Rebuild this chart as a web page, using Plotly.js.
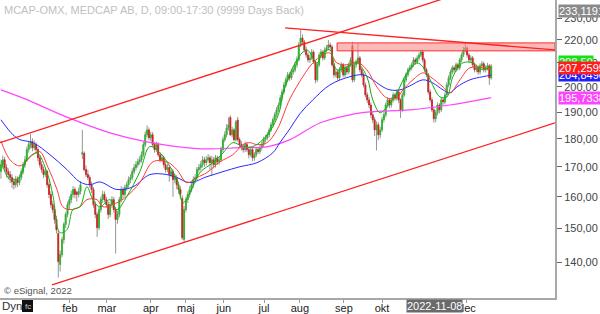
<!DOCTYPE html>
<html><head><meta charset="utf-8">
<script src="https://cdn.plot.ly/plotly-3.0.1.min.js"></script>
<style>html,body{margin:0;padding:0;background:#fff;}#chart{width:600px;height:314px;}</style>
</head><body><div id="chart"></div>
<script>
// Daily OHLC (index = trading day)
const openP = [168.5,170.8,172.5,169.8,168.4,167.4,166.4,165.0,164.0,165.7,164.7,166.4,168.4,170.8,172.5,176.1,177.9,179.0,176.8,177.9,
176.1,173.2,170.8,169.1,167.4,168.4,164.0,160.8,157.5,155.9,152.8,148.5,139.5,142.3,146.7,151.3,154.4,157.5,159.1,160.8,
162.4,161.5,160.8,161.8,174.5,174.8,169.1,167.4,166.4,164.0,162.4,157.5,154.4,150.3,155.9,159.1,160.8,159.1,157.5,154.4,
157.5,159.1,155.9,152.8,154.4,159.1,162.4,160.8,163.0,164.0,165.7,166.4,168.4,169.8,170.8,171.8,172.5,174.3,177.9,181.5,
183.3,180.4,181.5,177.9,176.1,177.9,174.3,172.5,173.2,170.8,169.1,169.8,167.4,168.4,165.7,166.4,164.0,162.4,159.5,146.8,
155.9,159.1,160.8,162.4,164.0,165.7,166.4,169.1,169.8,170.8,172.5,171.5,172.5,173.2,171.5,172.5,170.8,173.2,171.8,172.5,
176.1,179.7,181.5,184.0,188.0,181.5,183.3,179.7,187.0,179.7,177.9,176.8,176.1,177.9,176.1,174.3,176.1,173.2,174.3,176.1,
175.4,176.8,177.9,179.7,180.4,181.5,183.3,185.2,187.1,189.0,190.9,192.8,195.6,198.0,200.8,202.9,205.0,203.7,206.2,207.1,
209.2,211.3,217.8,220.9,219.1,215.6,213.4,211.3,212.1,214.7,210.4,202.9,209.2,213.4,214.7,212.1,215.6,216.5,217.8,216.9,
209.2,205.0,206.2,203.7,207.1,209.2,205.0,207.9,206.2,209.2,217.5,202.9,209.2,210.4,212.1,207.1,205.0,200.8,196.8,194.8,
192.8,189.0,187.1,183.3,185.2,181.5,183.3,187.1,189.0,192.8,194.8,192.8,194.8,196.8,195.6,198.0,194.8,190.9,196.8,202.9,
205.0,207.1,207.9,209.2,211.3,210.4,212.1,213.4,214.7,211.3,207.1,205.0,198.0,194.8,190.9,187.5,189.8,192.8,190.9,194.8,
194.0,196.8,200.8,203.7,206.2,207.9,207.1,209.2,207.9,211.3,213.4,215.6,216.5,213.4,211.3,212.1,209.2,207.1,207.9,206.2,
208.8,209.6,207.1,207.9,208.8,203.7];
const highP = [171.8,174.0,173.5,171.0,169.5,168.6,167.5,166.2,167.0,166.8,167.5,169.5,171.8,173.8,177.2,179.2,181.8,180.2,179.5,178.8,
177.0,174.2,172.0,170.2,169.6,169.0,165.0,161.8,158.6,157.0,154.0,149.5,143.5,147.5,152.0,155.2,158.5,160.2,162.0,163.5,
163.2,162.0,163.0,165.2,183.3,175.5,170.5,169.0,167.2,165.0,163.2,158.5,155.2,156.8,160.0,162.0,161.8,160.0,158.5,158.5,
160.2,160.0,156.8,155.5,160.0,163.5,163.2,164.0,165.0,166.8,167.5,169.5,171.0,172.0,173.0,173.8,175.5,179.0,182.8,185.0,
184.2,182.6,182.5,178.8,179.0,178.8,175.2,174.5,174.0,171.8,171.0,170.5,169.5,169.2,167.5,167.2,165.0,163.5,160.5,157.0,
160.0,161.8,163.5,165.0,166.8,167.5,170.0,171.0,172.0,173.8,173.5,173.8,174.5,174.0,173.8,173.5,174.2,174.0,173.8,177.2,
180.8,182.8,185.5,188.0,188.8,184.5,184.0,187.0,188.2,180.5,179.2,178.0,179.0,178.8,177.0,177.2,177.0,175.2,177.0,177.0,
177.8,179.0,180.8,181.5,182.5,184.2,186.2,188.0,190.0,192.0,193.8,196.8,199.2,202.0,204.0,206.2,206.0,207.5,208.5,210.5,
212.8,219.0,224.5,222.5,220.0,217.0,214.5,213.5,216.0,215.5,211.2,210.0,214.5,216.0,215.5,216.8,217.8,220.0,218.8,217.8,
210.2,207.5,207.0,208.2,210.2,210.0,209.0,208.8,210.2,212.5,219.2,210.2,211.5,218.7,213.0,208.0,206.0,201.8,197.8,196.0,
193.8,190.2,188.2,186.5,186.2,184.5,188.2,190.0,193.8,195.8,195.5,195.8,197.8,197.5,199.0,198.8,195.5,197.8,204.0,206.0,
208.0,209.0,210.2,212.5,212.2,213.2,214.5,215.6,215.5,212.2,208.0,205.8,199.0,195.8,192.0,190.8,193.8,193.5,195.8,195.8,
197.8,201.8,204.8,207.2,209.0,208.8,210.2,210.0,212.2,214.5,217.0,218.7,217.2,214.2,213.2,213.0,210.2,209.0,208.8,209.8,
210.8,210.5,209.0,210.0,209.5,209.5];
const lowP = [166.0,169.5,168.5,166.5,165.8,164.5,162.8,162.4,163.0,163.2,163.8,165.5,167.5,169.8,171.8,175.0,176.5,175.5,175.8,174.8,
172.0,169.8,168.0,166.2,166.5,163.0,159.5,156.5,154.8,151.5,148.5,135.8,137.5,141.5,145.5,150.2,153.5,156.0,158.0,159.8,
159.5,158.5,159.8,160.8,172.8,168.5,166.5,165.5,163.0,161.2,156.5,153.2,147.5,149.5,155.0,158.0,158.2,156.5,153.0,153.5,
156.5,155.0,142.6,151.5,153.5,158.2,159.5,160.0,162.0,163.0,164.5,165.5,167.5,168.8,169.8,170.8,171.5,173.5,177.0,180.5,
179.5,179.2,177.0,175.0,175.2,173.5,171.5,171.8,169.8,168.0,168.2,165.0,166.5,160.0,164.5,162.5,161.0,159.5,146.6,146.0,
155.0,158.0,159.8,161.5,163.0,164.5,165.5,168.0,168.8,169.8,170.0,170.5,171.5,169.0,167.0,169.5,169.8,170.8,170.8,171.8,
175.2,178.8,180.5,183.0,181.0,180.5,179.0,179.0,179.0,177.0,175.8,175.0,175.2,175.2,173.0,173.5,172.0,172.2,173.5,174.5,
174.5,175.8,177.0,178.8,179.5,180.5,182.5,184.2,186.2,188.0,190.0,191.8,194.5,197.0,199.8,201.8,202.5,202.8,205.0,206.0,
208.0,210.5,216.8,218.0,214.5,212.2,210.2,210.0,211.2,209.5,201.5,202.0,208.2,212.2,211.0,211.2,214.5,215.5,215.5,208.2,
203.8,204.0,202.5,202.8,206.0,204.0,204.0,205.0,205.2,208.2,201.8,202.0,208.0,209.5,206.0,204.0,199.8,195.8,193.5,191.5,
187.8,185.8,181.0,175.8,179.5,180.2,182.5,186.0,188.0,191.8,191.5,191.8,193.8,194.5,194.5,193.5,187.8,190.0,196.0,202.0,
204.0,206.0,206.8,208.2,209.2,209.5,211.0,212.5,210.2,206.0,204.0,197.0,193.8,190.0,186.0,186.2,188.8,189.5,190.0,192.8,
193.0,195.8,199.8,202.8,205.2,205.8,206.2,206.8,207.0,210.2,212.5,214.5,212.2,210.2,210.2,208.2,206.0,206.0,205.0,205.2,
207.8,206.0,206.0,206.8,200.8,203.0];
const closeP = [170.8,172.5,169.8,168.4,167.4,166.4,165.0,164.0,165.7,164.7,166.4,168.4,170.8,172.5,176.1,177.9,179.0,176.8,177.9,176.1,
173.2,170.8,169.1,167.4,168.4,164.0,160.8,157.5,155.9,152.8,149.7,140.3,142.3,146.7,151.3,154.4,157.5,159.1,160.8,162.4,
160.8,160.8,161.8,164.0,175.0,169.1,167.4,166.4,164.0,162.4,157.5,154.4,150.3,155.9,159.1,160.8,159.1,157.5,154.4,157.5,
159.1,155.9,152.8,154.4,159.1,162.4,160.8,163.0,164.0,165.7,166.4,168.4,169.8,170.8,171.8,172.5,174.3,177.9,181.5,183.3,
180.4,181.5,177.9,176.1,177.9,174.3,172.5,173.2,170.8,169.1,169.8,167.4,168.4,165.7,166.4,164.0,162.4,160.8,147.3,155.9,
159.1,160.8,162.4,164.0,165.7,166.4,169.1,169.8,170.8,172.5,171.5,172.5,173.2,171.5,172.5,170.8,173.2,171.8,172.5,176.1,
179.7,181.5,184.0,185.2,181.5,183.3,179.7,186.3,179.7,177.9,176.8,176.1,177.9,176.1,174.3,176.1,173.2,174.3,176.1,175.4,
176.8,177.9,179.7,180.4,181.5,183.3,185.2,187.1,189.0,190.9,192.8,195.6,198.0,200.8,202.9,205.0,203.7,206.2,207.1,209.2,
211.3,217.8,220.9,219.1,215.6,213.4,211.3,212.1,214.7,210.4,202.9,209.2,213.4,214.7,212.1,215.6,216.5,217.8,216.9,209.2,
205.0,206.2,203.7,207.1,209.2,205.0,207.9,206.2,209.2,211.3,202.9,209.2,210.4,212.1,207.1,205.0,200.8,196.8,194.8,192.8,
189.0,187.1,183.3,185.2,181.5,183.3,187.1,189.0,192.8,194.8,192.8,194.8,196.8,195.6,198.0,194.8,190.9,196.8,202.9,205.0,
207.1,207.9,209.2,211.3,210.4,212.1,213.4,214.7,211.3,207.1,205.0,198.0,194.8,190.9,187.5,189.8,192.8,190.9,194.8,194.0,
196.8,200.8,203.7,206.2,207.9,207.1,209.2,207.9,211.3,213.4,215.6,216.5,213.4,211.3,212.1,209.2,207.1,207.9,206.2,208.8,
209.6,207.1,207.9,208.8,203.7,208.5];

// Moving averages (day index, value)
const maGreenX = [0,4.9,10.3,14,19.5,24.9,28.1,31.9,35.7,38.9,42.7,46.5,49.7,53.5,58.9,62.7,68.1,75.1,80.5,85.9,91.4,95.1,98.4,102.2,107.6,114.6,120,125.4,130.8,136.2,141.6,147,150.8,152.4,160,165.4,170.8,174,177.8,181.6,187,192.4,197.8,201,204.9,208.6,214,219.5,225,228.1,232,237.3,241.1,244.3,249.7,255.1,260.5,265];
const maGreenY = [172.5,165.7,166.7,172.5,174.9,168.1,160.5,148.8,149.7,155.9,156.8,163.3,159.1,156.8,159.1,155.9,160.2,168.4,177.2,175.0,170.1,165.7,158.1,161.4,168.1,171.5,174.9,178.6,177.2,177.2,179.7,184.5,190.9,197.2,211.3,215.6,210.0,214.3,215.6,207.1,208.3,210.0,204.2,194.8,189.8,192.0,197.6,205.8,210.0,208.3,202.9,196.0,196.0,204.2,210.0,210.0,207.1,208.5];
const maRedX = [0,4.9,10.3,17.3,21,25.5,30.3,33.5,37.3,42.7,46.5,51.9,55.1,62.7,68.1,75.1,82.2,89.7,95.1,100.5,106,111.4,118.4,125.4,130.8,134.6,138.4,143.8,149.2,156.2,163.2,168.6,174,177.8,181.6,187,192.4,197.8,203.2,208.6,214,217.3,222.7,228.1,232,239,242.7,248.1,253.5,260.5,265];
const maRedY = [179.3,172.5,170.4,174.3,175.4,169.8,162.4,156.8,155.9,156.8,159.1,159.1,156.8,158.1,160.2,164.7,171.8,171.8,169.1,164.7,166.4,168.1,171.8,174.3,177.9,178.6,177.9,178.6,183.3,195.2,204.2,210.0,213.4,214.3,210.0,209.2,210.4,207.1,200.0,195.6,195.6,198.8,202.9,205.8,204.2,200.0,197.6,202.9,207.9,207.9,207.3];
const maBlueX = [0,6.5,10.3,17.3,26.5,35.7,42.7,48.1,53.5,62.7,71.4,80.5,89.7,95.1,102,111.4,120,129.2,138.4,147,150.8,156.2,161.6,168.6,177.8,188.6,195.7,199.5,206.5,210.3,215.7,221,228.1,233.5,239,242.7,246.5,253.5,260.5,265];
const maBlueY = [187.1,181.5,179.7,178.6,174.3,169.1,164.9,164.0,164.9,162.4,163.3,167.4,167.4,166.4,164.7,166.7,168.4,170.1,171.5,175.0,178.6,183.7,189.4,194.8,200.8,204.2,205.0,203.7,200.0,198.8,198.8,200.4,202.9,201.6,198.8,197.6,200.0,202.9,204.2,204.85];
const maMagX = [0,13,35.7,58.9,78.9,107.6,129.2,143.8,156.2,172.4,188.6,199.5,221,242.7,265];
const maMagY = [198.8,195.2,188.1,182.2,178.9,176.4,176.8,177.1,179.7,185.9,189.0,190.1,190.9,192.8,195.73];

// Drawn trend lines and resistance zone (day index, value)
const upperChanX = [-0.5, 299.5], upperChanY = [178.6, 257.5];
const lowerChanX = [27.6, 299.5], lowerChanY = [133.8, 185.9];
const resistX = [153.6, 299.5], resistY = [225.5, 215.6];
const zoneX = [181.7, 299.5], zoneY = [215.2, 218.7];

// Axis ticks
const monthPos = [37.3,57.3,81.1,100,120.5,142.2,161.6,185.4,206,229.2,251.9];
const monthLbl = ['feb','mar','apr','maj','jun','jul','aug','sep','okt','','dec'];
const priceTicks = [140,150,160,170,180,190,200,210,220,230];
const priceTickLbl = ['140,00','150,00','160,00','170,00','180,00','190,00','200,00','210,00','220,00','230,00'];

const idx = closeP.map((_, i) => i);
const bodyHi = closeP.map((c, i) => Math.max(c, openP[i]));
const bodyLo = closeP.map((c, i) => Math.min(c, openP[i]));
const F = 'Liberation Sans, Arial, sans-serif';

const traces = [
  {type:'scatter', mode:'lines', x:[zoneX[0],zoneX[1],zoneX[1],zoneX[0],zoneX[0]], y:[zoneY[1],zoneY[1],zoneY[0],zoneY[0],zoneY[1]],
   fill:'toself', fillcolor:'rgba(248,140,140,0.6)', line:{color:'#ff2a2a', width:1}},
  {type:'candlestick', x:idx, open:openP, high:highP, low:lowP, close:closeP, whiskerwidth:0,
   increasing:{line:{color:'#959595', width:1}, fillcolor:'#959595'},
   decreasing:{line:{color:'#959595', width:1}, fillcolor:'#959595'}},
  {type:'candlestick', x:idx, open:openP, high:bodyHi, low:bodyLo, close:closeP, whiskerwidth:0,
   increasing:{line:{color:'#20c020', width:0.6}, fillcolor:'#20c020'},
   decreasing:{line:{color:'#e01818', width:0.6}, fillcolor:'#e01818'}},
  {type:'scatter', mode:'lines', x:maMagX, y:maMagY, line:{color:'#ff44ff', width:1.2, shape:'spline'}},
  {type:'scatter', mode:'lines', x:maBlueX, y:maBlueY, line:{color:'#2a2aff', width:1, shape:'spline'}},
  {type:'scatter', mode:'lines', x:maRedX, y:maRedY, line:{color:'#ff3a3a', width:1, shape:'spline'}},
  {type:'scatter', mode:'lines', x:maGreenX, y:maGreenY, line:{color:'#10b010', width:1, shape:'spline'}},
  {type:'scatter', mode:'lines', x:upperChanX, y:upperChanY, line:{color:'#ff2020', width:1.3}},
  {type:'scatter', mode:'lines', x:lowerChanX, y:lowerChanY, line:{color:'#ff2020', width:1.3}},
  {type:'scatter', mode:'lines', x:resistX, y:resistY, line:{color:'#ff2020', width:1.3}}
];

function py(p){ return (298 - p) / 298; }
function tag(text, ypx, bg, fc){
  return {xref:'paper', yref:'paper', x:1 + 3/555, y:py(ypx), xanchor:'left', yanchor:'middle', showarrow:false,
    text:text, bgcolor:bg, borderpad:0, font:{family:F, size:11, color:fc}};
}

const layout = {
  width:600, height:314, margin:{l:0, r:45, t:0, b:16},
  paper_bgcolor:'#fff', plot_bgcolor:'#fff', showlegend:false,
  xaxis:{type:'linear', range:[-0.5, 299.5], rangeslider:{visible:false}, showgrid:false, zeroline:false,
    tickmode:'array', tickvals:monthPos, ticktext:monthLbl, ticks:'outside', ticklen:3, tickcolor:'#999',
    ticklabelstandoff:-4,
    showline:true, linecolor:'#a8a8a8', linewidth:2, tickfont:{family:F, size:11, color:'#222'}, fixedrange:true},
  yaxis:{type:'log', side:'right', range:[Math.log10(130.3), Math.log10(238.6)], showgrid:false, zeroline:false,
    tickmode:'array', tickvals:priceTicks, ticktext:priceTickLbl, ticks:'outside', ticklen:5, tickcolor:'#666',
    showline:true, linecolor:'#a8a8a8', linewidth:2, tickfont:{family:F, size:11, color:'#444'}, fixedrange:true},
  annotations:[
    {xref:'paper', yref:'paper', x:0.003, y:py(10), xanchor:'left', yanchor:'middle', showarrow:false,
     text:'MCAP-OMX, MEDCAP AB, D, 09:00-17:30 (9999 Days Back)', font:{family:F, size:11, color:'#c0c0c0'}},
    {xref:'paper', yref:'paper', x:0.004, y:py(290), xanchor:'left', yanchor:'middle', showarrow:false,
     text:'© eSignal, 2022', font:{family:F, size:9.5, color:'#555'}},
    {xref:'paper', yref:'paper', x:0, y:py(306), xanchor:'left', yanchor:'middle', showarrow:false,
     text:'Dyn', font:{family:F, size:11.5, color:'#333'}},
    {xref:'paper', yref:'paper', x:27.5/555, y:py(306), xanchor:'center', yanchor:'middle', showarrow:false,
     text:'fc', font:{family:F, size:8, color:'#ccc'}},
    {xref:'paper', yref:'paper', x:434/555, y:py(306), xanchor:'center', yanchor:'middle', showarrow:false,
     text:'2022-11-08', bgcolor:'#6a6a6a', borderpad:0, font:{family:F, size:11, color:'#fff'}},
    tag('233,11918', 11, '#8a8a8a', '#fff'),
    tag('208,50', 62, '#18e018', '#fff'),
    tag('204,84909', 75, '#2020ff', '#fff'),
    tag('207,25953', 68, '#ff1c1c', '#fff'),
    tag('195,73386', 98, '#ff44ff', '#fff')
  ],
  shapes:[
    {type:'rect', xref:'paper', yref:'paper', x0:22/555, x1:33/555, y0:py(312), y1:py(300), fillcolor:'#111', line:{width:0}}
  ]
};

Plotly.newPlot('chart', traces, layout, {staticPlot:true, displayModeBar:false});
</script></body></html>
